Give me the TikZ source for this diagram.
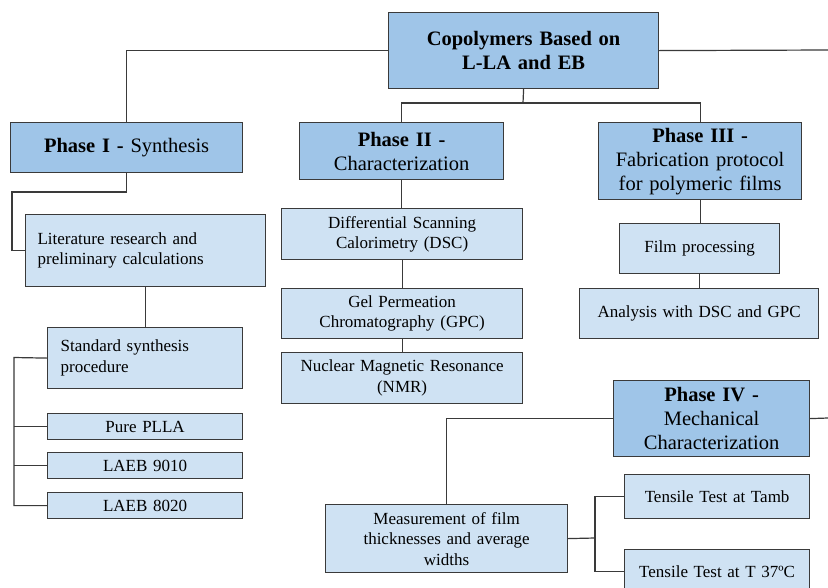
\documentclass[tikz,border=0pt]{standalone}
\usepackage{fontspec}
\setmainfont{Liberation Serif}
\definecolor{dk}{HTML}{9FC5E8}
\definecolor{lt}{HTML}{CFE2F3}
\definecolor{ln}{HTML}{3A3A3A}
\begin{document}
\begin{tikzpicture}[x=1pt,y=-1pt,
  base/.style={draw=ln, line width=1.2pt, anchor=north west, inner sep=0pt, align=center},
  big/.style={base, fill=dk, font=\fontsize{20.5}{24}\selectfont},
  small/.style={base, fill=lt, font=\fontsize{17}{20.5}\selectfont},
  conn/.style={draw=ln, line width=1.2pt}]
\clip (0,0) rectangle (828,587);
\fill[white] (0,0) rectangle (828,587);
% main boxes
\node[big, text width=270pt, minimum height=76pt] (T) at (388,12) {\textbf{Copolymers Based on}\\\textbf{L-LA and EB}};
\node[big, text width=232pt, minimum height=50pt] (P1) at (10,122) {\textbf{Phase I -} Synthesis};
\node[big, text width=204pt, minimum height=57pt] (P2) at (299,122) {\textbf{Phase II -}\\Characterization};
\node[big, text width=203pt, minimum height=77pt] (P3) at (598,122) {\textbf{Phase III -}\\Fabrication protocol\\for polymeric films};
\node[big, text width=196pt, minimum height=76pt] (P4) at (613,380) {\textbf{Phase IV -}\\Mechanical\\Characterization};
% phase I
\node[small, align=left, inner xsep=12pt, text width=216pt, minimum height=72pt] (Lit) at (25,214) {Literature research and\\preliminary calculations};
\node[small, align=left, inner xsep=13pt, text width=169pt, minimum height=61pt] (Std) at (47,327) {Standard synthesis\\procedure};
\node[small, text width=195pt, minimum height=26pt] (PLLA) at (47,413) {Pure PLLA};
\node[small, text width=195pt, minimum height=26pt] (L1) at (47,452) {LAEB 9010};
\node[small, text width=195pt, minimum height=26pt] (L2) at (47,492) {LAEB 8020};
% phase II
\node[small, text width=241pt, minimum height=51pt] (DSC) at (281,208) {Differential Scanning\\Calorimetry (DSC)};
\node[small, text width=241pt, minimum height=50pt] (GPC) at (281,288) {Gel Permeation\\Chromatography (GPC)};
\node[small, text width=241pt, minimum height=51pt] (NMR) at (281,352) {Nuclear Magnetic Resonance\\(NMR)};
% phase III
\node[small, text width=160pt, minimum height=50pt] (Film) at (619,223) {Film processing};
\node[small, text width=239pt, minimum height=50pt] (Ana) at (579,288) {Analysis with DSC and GPC};
% phase IV
\node[small, text width=242pt, minimum height=68pt] (Meas) at (325,504) {Measurement of film\\thicknesses and average\\widths};
\node[small, text width=185pt, minimum height=44pt] (TT1) at (624,474) {Tensile Test at Tamb};
\node[small, text width=185pt, minimum height=44pt] (TT2) at (624,549) {Tensile Test at T 37ºC};
% connectors
\coordinate (tr) at (828,50);
\coordinate (br) at (523,103);
\coordinate (c1) at (12,192);
\coordinate (c2) at (14,357.5);
\coordinate (tr2) at (828,418);
\coordinate (c3) at (595,538);
\draw[conn] (T.west) -| (P1.north);
\draw[conn] (T.east) -- (tr);
\draw[conn] (T.south) -- (br);
\draw[conn] (P2.north) |- (br) -| (P3.north);
\draw[conn] (P1.south) |- (c1) |- (Lit.west);
\draw[conn] (Lit.south) -- (Lit.south |- Std.north);
\draw[conn] (Std.west) -- (c2) |- (L2.west);
\draw[conn] (c2 |- PLLA.west) -- (PLLA.west);
\draw[conn] (c2 |- L1.west) -- (L1.west);
\draw[conn] (P2.south) -- (P2.south |- DSC.north);
\draw[conn] (DSC.south) -- (DSC.south |- GPC.north);
\draw[conn] (GPC.south) -- (GPC.south |- NMR.north);
\draw[conn] (P3.south) -- (P3.south |- Film.north);
\draw[conn] (Film.south) -- (Film.south |- Ana.north);
\draw[conn] (P4.east) -- (tr2);
\draw[conn] (P4.west) -| (Meas.north);
\draw[conn] (Meas.east) -- (c3);
\draw[conn] (TT1.west) -| (c3) |- (TT2.west);
\end{tikzpicture}
\end{document}
